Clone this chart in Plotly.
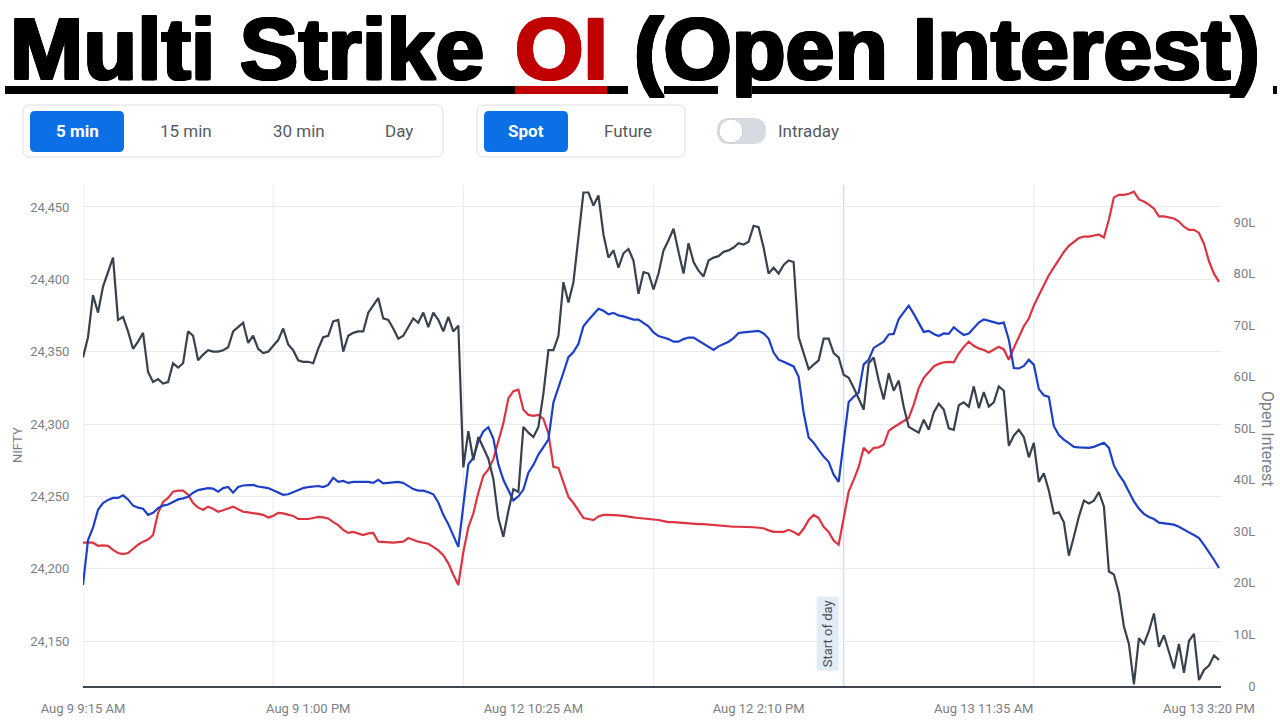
import plotly.graph_objects as go

# ---------------- data ----------------
DAYS = ["Aug 9", "Aug 12", "Aug 13"]
SESSION_START_MIN = 9 * 60 + 15
CANDLE_MIN = 5
CANDLES_PER_DAY = 76

NIFTY_AUG9 = [24346, 24360, 24389, 24377, 24395, 24405, 24415, 24372, 24374, 24364,
              24352, 24357, 24363, 24336, 24329, 24331, 24328, 24329, 24342, 24339,
              24342, 24364, 24361, 24344, 24348, 24351, 24350, 24350, 24351, 24353,
              24364, 24367, 24370, 24356, 24361, 24352, 24349, 24350, 24354, 24358,
              24366, 24355, 24351, 24344, 24343, 24343, 24342, 24352, 24360, 24361,
              24371, 24372, 24350, 24361, 24363, 24364, 24364, 24377, 24382, 24387,
              24373, 24372, 24366, 24359, 24361, 24367, 24373, 24370, 24377, 24367,
              24377, 24372, 24364, 24374, 24364, 24368]
NIFTY_AUG12 = [24270, 24295, 24275, 24291, 24284, 24276, 24262, 24235, 24222, 24240,
               24255, 24253, 24298, 24294, 24291, 24298, 24321, 24351, 24351, 24361,
               24398, 24384, 24398, 24430, 24460, 24460, 24451, 24458, 24431, 24415,
               24420, 24408, 24418, 24421, 24413, 24390, 24405, 24404, 24393, 24404,
               24420, 24427, 24435, 24419, 24404, 24425, 24412, 24406, 24402, 24413,
               24415, 24416, 24419, 24420, 24422, 24425, 24424, 24426, 24437, 24436,
               24422, 24404, 24408, 24404, 24410, 24413, 24412, 24360, 24349, 24338,
               24341, 24344, 24359, 24359, 24349, 24346]
NIFTY_AUG13 = [24334, 24332, 24325, 24318, 24310, 24342, 24346, 24330, 24317, 24335,
               24323, 24330, 24312, 24298, 24296, 24294, 24303, 24296, 24308, 24314,
               24310, 24297, 24296, 24313, 24315, 24312, 24326, 24311, 24322, 24312,
               24315, 24326, 24323, 24285, 24292, 24296, 24291, 24277, 24287, 24260,
               24266, 24254, 24238, 24239, 24232, 24209, 24222, 24236, 24247, 24245,
               24247, 24253, 24243, 24198, 24196, 24183, 24160, 24148, 24120, 24152,
               24148, 24157, 24169, 24146, 24154, 24142, 24131, 24148, 24128, 24150,
               24155, 24123, 24130, 24133, 24140, 24137]

# Open interest, in lakhs
RED_OI_AUG9 = [27.8, 27.8, 27.8, 27.2, 27.3, 27.2, 26.4, 25.8, 25.6, 25.8,
               26.6, 27.4, 28.0, 28.4, 29.3, 33.6, 35.7, 36.5, 37.7, 37.9,
               37.9, 37.1, 35.5, 34.6, 34.2, 34.8, 34.4, 33.8, 34.1, 34.4,
               34.8, 34.3, 33.8, 33.7, 33.6, 33.4, 33.2, 32.7, 33.0, 33.6,
               33.5, 33.3, 33.0, 32.4, 32.4, 32.4, 32.6, 32.8, 32.7, 32.5,
               31.8, 31.2, 30.3, 29.7, 29.9, 29.6, 29.3, 29.6, 29.7, 28.0,
               27.9, 27.8, 27.8, 27.9, 28.0, 28.7, 28.3, 28.0, 27.8, 27.6,
               27.0, 26.3, 25.4, 23.8, 21.6, 19.6]
RED_OI_AUG12 = [26.0, 30.8, 33.5, 37.5, 40.8, 42.0, 44.0, 47.5, 51.0, 55.8,
                57.2, 57.5, 53.6, 52.6, 52.4, 52.6, 51.8, 49.0, 42.5, 42.3,
                39.6, 36.7, 35.5, 34.0, 32.6, 32.4, 32.2, 32.9, 33.2, 33.2,
                33.2, 33.1, 33.0, 32.8, 32.7, 32.6, 32.5, 32.5, 32.4, 32.2,
                32.0, 31.8, 31.8, 31.7, 31.7, 31.6, 31.5, 31.4, 31.4, 31.3,
                31.2, 31.1, 31.1, 31.0, 30.9, 30.9, 30.9, 30.9, 30.8, 30.7,
                30.6, 30.2, 29.9, 29.9, 29.9, 30.3, 29.9, 29.3, 30.5, 32.2,
                33.2, 32.6, 30.9, 29.9, 28.2, 27.4]
RED_OI_AUG13 = [32.6, 37.7, 40.0, 42.5, 46.2, 45.2, 46.2, 46.3, 46.8, 49.5,
                50.2, 50.8, 51.4, 52.0, 54.6, 57.8, 59.8, 61.0, 62.0, 62.5,
                62.8, 62.9, 62.8, 64.5, 65.8, 66.8, 66.0, 65.5, 65.2, 64.7,
                65.3, 65.8, 65.3, 63.3, 65.6, 67.8, 69.8, 71.3, 73.8, 75.8,
                77.9, 79.7, 81.2, 82.7, 84.2, 85.4, 86.2, 86.9, 87.2, 87.2,
                87.4, 87.6, 87.0, 90.5, 94.8, 95.3, 95.3, 95.5, 95.9, 94.4,
                94.0, 93.4, 92.6, 91.1, 91.1, 90.9, 90.7, 90.1, 89.1, 88.5,
                88.5, 87.9, 85.8, 82.4, 80.0, 78.4]

BLUE_OI_AUG9 = [19.6, 28.3, 30.7, 34.2, 35.5, 36.1, 36.5, 36.5, 37.0, 36.2,
                35.0, 34.6, 34.4, 33.2, 33.6, 34.5, 35.0, 35.2, 35.7, 36.2,
                36.4, 36.7, 37.5, 38.0, 38.2, 38.4, 38.3, 37.7, 38.4, 38.6,
                37.5, 38.6, 38.9, 39.0, 39.0, 38.7, 38.6, 38.4, 38.0, 37.6,
                37.1, 37.2, 37.6, 38.1, 38.4, 38.6, 38.7, 38.8, 38.6, 39.0,
                40.4, 39.6, 39.8, 39.4, 39.6, 39.6, 39.6, 39.6, 39.4, 40.0,
                39.3, 39.4, 39.5, 39.6, 39.4, 38.8, 38.2, 37.9, 37.9, 37.6,
                37.2, 35.6, 33.2, 31.4, 29.1, 27.0]
BLUE_OI_AUG12 = [35.0, 43.0, 44.3, 47.5, 49.4, 50.2, 48.0, 43.0, 40.0, 38.0,
                 36.0, 36.8, 38.1, 41.4, 42.9, 44.9, 46.4, 47.8, 55.0, 58.1,
                 60.8, 63.8, 64.8, 66.4, 69.8, 71.0, 72.2, 73.2, 72.8, 72.1,
                 72.4, 71.9, 71.7, 71.4, 71.1, 71.1, 70.4, 69.8, 68.6, 67.9,
                 67.6, 67.3, 66.8, 66.8, 67.3, 67.6, 67.6, 67.0, 66.4, 65.8,
                 65.2, 65.9, 66.4, 66.8, 67.5, 68.5, 68.6, 68.7, 68.7, 68.9,
                 68.4, 67.4, 64.7, 63.3, 62.9, 62.5, 62.0, 60.0, 53.0, 48.2,
                 47.2, 45.8, 44.5, 43.5, 41.0, 39.6]
BLUE_OI_AUG13 = [47.8, 55.1, 56.1, 56.9, 62.4, 63.3, 65.6, 66.2, 66.8, 68.2,
                 68.3, 71.2, 72.4, 73.8, 72.2, 70.4, 68.7, 68.9, 68.3, 67.9,
                 68.4, 68.3, 69.6, 68.8, 68.1, 68.4, 69.5, 70.5, 71.1, 70.9,
                 70.6, 70.3, 70.5, 67.2, 61.7, 61.6, 62.1, 63.3, 62.3, 57.6,
                 56.4, 56.1, 50.4, 48.7, 47.8, 47.1, 46.4, 46.3, 46.2, 46.2,
                 46.4, 46.8, 47.2, 46.2, 42.8, 41.0, 39.6, 37.7, 35.8, 34.4,
                 33.4, 32.8, 32.4, 31.7, 31.6, 31.4, 31.3, 30.9, 30.3, 29.8,
                 29.3, 28.7, 27.4, 26.0, 24.5, 22.9]

NIFTY_TICKS = [24150, 24200, 24250, 24300, 24350, 24400, 24450]
OI_TICKS = [0, 10, 20, 30, 40, 50, 60, 70, 80, 90]
X_TICK_EVERY = 45
BUTTONS_INTERVAL = ["5 min", "15 min", "30 min", "Day"]
BUTTONS_PRICE = ["Spot", "Future"]

# ---------------- derived ----------------
def fmt_time(day, minutes):
    h, m = divmod(minutes, 60)
    ampm = "AM" if h < 12 else "PM"
    h12 = h if h <= 12 else h - 12
    return f"{day} {h12}:{m:02d} {ampm}"

times, slot_of = [], []
for d in DAYS:
    for k in range(CANDLES_PER_DAY):
        times.append(fmt_time(d, SESSION_START_MIN + k * CANDLE_MIN))
        slot_of.append(k)
xi = list(range(len(times)))

nifty = NIFTY_AUG9 + NIFTY_AUG12 + NIFTY_AUG13
red_oi = RED_OI_AUG9 + RED_OI_AUG12 + RED_OI_AUG13
blue_oi = BLUE_OI_AUG9 + BLUE_OI_AUG12 + BLUE_OI_AUG13

tick_idx = list(range(0, len(times), X_TICK_EVERY))
tick_txt = [times[i] for i in tick_idx]

# pixel geometry of the plot area
PL, PR, PT, PB = 83, 1221, 185, 686
W, H = 1280, 720

def X(px):
    return (px - PL) / (PR - PL)

def Y(py):
    return (PB - py) / (PB - PT)

def rrect(x0, y0, x1, y1, r):
    return (f"M {X(x0+r)},{Y(y0)} L {X(x1-r)},{Y(y0)} Q {X(x1)},{Y(y0)} {X(x1)},{Y(y0+r)} "
            f"L {X(x1)},{Y(y1-r)} Q {X(x1)},{Y(y1)} {X(x1-r)},{Y(y1)} "
            f"L {X(x0+r)},{Y(y1)} Q {X(x0)},{Y(y1)} {X(x0)},{Y(y1-r)} "
            f"L {X(x0)},{Y(y0+r)} Q {X(x0)},{Y(y0)} {X(x0+r)},{Y(y0)} Z")

RED = "#dc3441"
BLUE = "#1d3fc8"
BLACK = "#38414e"

fig = go.Figure()
fig.add_trace(go.Scatter(x=xi, y=red_oi, mode="lines", yaxis="y",
                         line=dict(color=RED, width=2.2), hoverinfo="skip"))
fig.add_trace(go.Scatter(x=xi, y=blue_oi, mode="lines", yaxis="y",
                         line=dict(color=BLUE, width=2.2), hoverinfo="skip"))
fig.add_trace(go.Scatter(x=xi, y=nifty, mode="lines", yaxis="y2",
                         line=dict(color=BLACK, width=2.2), hoverinfo="skip"))

shapes = []
# vertical gridlines at day start and mid-day
for i, k in enumerate(slot_of):
    if k == 0 or k == CANDLES_PER_DAY // 2:
        is_sod = (k == 0 and i == len(times) - CANDLES_PER_DAY)
        shapes.append(dict(type="line", xref="x", yref="paper", x0=i, x1=i, y0=0, y1=1,
                           layer="below",
                           line=dict(color="#c8d7f0" if is_sod else "#eaecef", width=1.2)))

# controls
GRAY_BORDER = "#dcdfe3"
BTN_BLUE = "#0b6fe6"
shapes.append(dict(type="path", xref="paper", yref="paper", path=rrect(23, 105, 443, 157, 7),
                   line=dict(color=GRAY_BORDER, width=1), fillcolor="white", layer="above"))
shapes.append(dict(type="path", xref="paper", yref="paper", path=rrect(30, 111, 124, 152, 5),
                   line=dict(width=0), fillcolor=BTN_BLUE, layer="above"))
shapes.append(dict(type="path", xref="paper", yref="paper", path=rrect(477, 105, 685, 157, 7),
                   line=dict(color=GRAY_BORDER, width=1), fillcolor="white", layer="above"))
shapes.append(dict(type="path", xref="paper", yref="paper", path=rrect(484, 111, 568, 152, 5),
                   line=dict(width=0), fillcolor=BTN_BLUE, layer="above"))
shapes.append(dict(type="path", xref="paper", yref="paper", path=rrect(717, 118, 766, 144, 13),
                   line=dict(width=0), fillcolor="#d7dae0", layer="above"))
shapes.append(dict(type="circle", xref="paper", yref="paper",
                   x0=X(719), x1=X(743), y0=Y(143), y1=Y(119),
                   line=dict(color="#c9ccd2", width=1), fillcolor="white", layer="above"))

# title underline
UL_Y0, UL_Y1 = 86, 94
for a, b, c in [(5, 515, "#000000"), (515, 607, "#c00000"), (607, 628, "#000000"),
                (664, 718, "#000000"), (752, 1236, "#000000"), (1273, 1277, "#000000")]:
    shapes.append(dict(type="rect", xref="paper", yref="paper", x0=X(a), x1=X(b),
                       y0=Y(UL_Y1), y1=Y(UL_Y0), line=dict(width=0), fillcolor=c, layer="above"))

annotations = []

def bold_shadow(col):
    s = 1.4
    return ", ".join(f"{dx}px {dy}px 0px {col}" for dx, dy in
                     [(s, 0), (-s, 0), (0, s), (0, -s), (s, s), (-s, -s), (s, -s), (-s, s)])

TITLE_FONT = "Liberation Sans, Arial, sans-serif"
TITLE_Y = 48
TITLE_SIZE = 88
annotations.append(dict(text="Multi Strike", xref="paper", yref="paper", x=X(8), y=Y(TITLE_Y),
                        xanchor="left", yanchor="middle", showarrow=False,
                        font=dict(family=TITLE_FONT, size=TITLE_SIZE, color="#000000", weight="bold",
                                  shadow=bold_shadow("#000000"))))
annotations.append(dict(text="OI", xref="paper", yref="paper", x=X(561), y=Y(TITLE_Y),
                        xanchor="center", yanchor="middle", showarrow=False,
                        font=dict(family=TITLE_FONT, size=TITLE_SIZE, color="#c00000", weight="bold",
                                  shadow=bold_shadow("#c00000"))))
annotations.append(dict(text="(Open Interest)", xref="paper", yref="paper", x=X(947), y=Y(TITLE_Y),
                        xanchor="center", yanchor="middle", showarrow=False,
                        font=dict(family=TITLE_FONT, size=TITLE_SIZE, color="#000000", weight="bold",
                                  shadow=bold_shadow("#000000"))))

CTRL_FONT = "Roboto, sans-serif"
for label, cx, active in zip(BUTTONS_INTERVAL, [77, 186, 299, 399], [True, False, False, False]):
    annotations.append(dict(text=label, xref="paper", yref="paper", x=X(cx), y=Y(131),
                            xanchor="center", yanchor="middle", showarrow=False,
                            font=dict(family=CTRL_FONT, size=17,
                                      color="white" if active else "#555a61",
                                      weight="bold" if active else "normal")))
for label, cx, active in zip(BUTTONS_PRICE, [526, 628], [True, False]):
    annotations.append(dict(text=label, xref="paper", yref="paper", x=X(cx), y=Y(131),
                            xanchor="center", yanchor="middle", showarrow=False,
                            font=dict(family=CTRL_FONT, size=17,
                                      color="white" if active else "#555a61",
                                      weight="bold" if active else "normal")))
annotations.append(dict(text="Intraday", xref="paper", yref="paper", x=X(776), y=Y(131),
                        xanchor="left", yanchor="middle", showarrow=False,
                        font=dict(family=CTRL_FONT, size=17, color="#555a61")))

# axis titles
annotations.append(dict(text="NIFTY", xref="paper", yref="paper", x=X(17), y=Y(445),
                        xanchor="center", yanchor="middle", showarrow=False, textangle=-90,
                        font=dict(family=CTRL_FONT, size=13, color="#7a7f86")))
annotations.append(dict(text="Open Interest", xref="paper", yref="paper", x=X(1268), y=Y(438),
                        xanchor="center", yanchor="middle", showarrow=False, textangle=90,
                        font=dict(family=CTRL_FONT, size=16, color="#7a7f86")))

# start of day marker
annotations.append(dict(text="Start of day", xref="x", yref="paper",
                        x=len(times) - CANDLES_PER_DAY, y=Y(634),
                        xanchor="right", yanchor="middle", xshift=-5, showarrow=False,
                        textangle=-90, bgcolor="#e3ebf7", borderpad=3,
                        font=dict(family=CTRL_FONT, size=13, color="#4a4f57")))

TICK_FONT = dict(family=CTRL_FONT, size=13, color="#7b7f86")
fig.update_layout(
    width=W, height=H,
    margin=dict(l=PL, r=W - PR, t=PT, b=H - PB, pad=0, autoexpand=False),
    paper_bgcolor="white", plot_bgcolor="white",
    showlegend=False, hovermode=False,
    xaxis=dict(range=[0, len(times) - 0.6], tickvals=tick_idx, ticktext=tick_txt,
               automargin=False,
               showgrid=False, zeroline=False, showline=True, linecolor="#3f4652", linewidth=1.5,
               ticks="outside", ticklen=10, tickcolor="rgba(0,0,0,0)", tickfont=TICK_FONT),
    yaxis=dict(side="right", range=[0, 97.2], tickvals=OI_TICKS, automargin=False,
               ticktext=[("\u2007\u20070" if v == 0 else f"{v}L") for v in OI_TICKS],
               showgrid=False, zeroline=False, ticks="outside", ticklen=9,
               tickcolor="rgba(0,0,0,0)", tickfont=TICK_FONT),
    yaxis2=dict(overlaying="y", side="left", range=[24118.9, 24465.2], tickvals=NIFTY_TICKS,
                automargin=False,
                tickformat=",d", showgrid=True, gridcolor="#e8eaee", gridwidth=1, zeroline=False,
                ticks="outside", ticklen=10, tickcolor="rgba(0,0,0,0)", tickfont=TICK_FONT),
    shapes=shapes, annotations=annotations,
)

fig.write_html("out.html")
